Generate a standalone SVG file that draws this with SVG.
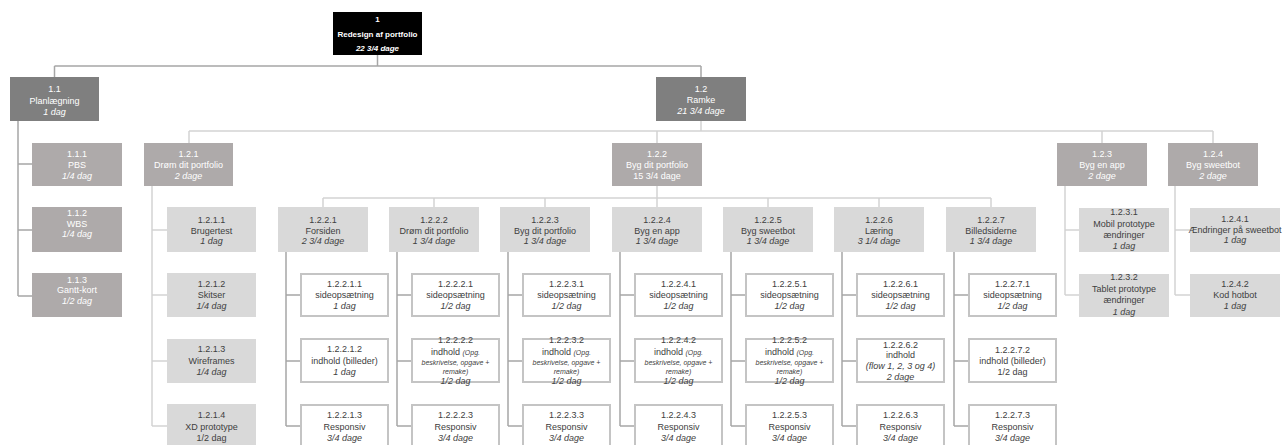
<svg xmlns="http://www.w3.org/2000/svg" width="1288" height="445" viewBox="0 0 1288 445">
<style>
text{font-family:"Liberation Sans",Arial,sans-serif;font-size:9px;text-anchor:middle}
.w{fill:#fff}.d{fill:#404040}.i{font-style:italic}.b{font-weight:bold;font-size:8px}
.sm{font-size:7px;font-style:italic}
.k0{fill:#000}.k1{fill:#7f7f7f}.k2{fill:#aeaaaa}.k3{fill:#d9d9d9}.k4{fill:#fff;stroke:#c4c4c4;stroke-width:2}
.c1{stroke:#a6a6a6;stroke-width:1.5;fill:none}.c2{stroke:#d3d3d3;stroke-width:1.5;fill:none}
</style>
<rect width="1288" height="445" fill="#fff"/>
<g id="connectors">
<path class="c1" d="M377.5 55V66M54.5 66H701M54.5 66V77M701 66V77"/>
<path class="c1" d="M18 121V296M18 164H32M18 230H32M18 296H32"/>
<path class="c2" d="M701 121V131M189 131H1213M189 131V143M657 131V143M1102 131V143M1213 131V143"/>
<path class="c2" d="M152 186V426M152 230H167M152 295H167M152 361H167M152 426H167"/>
<path class="c2" d="M657 186V198M323 198H991M323 198V207M434 198V207M545 198V207M657 198V207M768 198V207M879 198V207M991 198V207"/>
<path class="c1" d="M286 252V426M286 295H300M286 361H300M286 426H300"/>
<path class="c1" d="M397 252V426M397 295H411M397 361H411M397 426H411"/>
<path class="c1" d="M508 252V426M508 295H522M508 361H522M508 426H522"/>
<path class="c1" d="M620 252V426M620 295H634M620 361H634M620 426H634"/>
<path class="c1" d="M731 252V426M731 295H745M731 361H745M731 426H745"/>
<path class="c1" d="M842 252V426M842 295H856M842 361H856M842 426H856"/>
<path class="c1" d="M954 252V426M954 295H968M954 361H968M954 426H968"/>
<path class="c2" d="M1065 186V295M1065 230H1079M1065 295H1079"/>
<path class="c2" d="M1175 186V295M1175 230H1190M1175 295H1190"/>
</g>
<g id="n1"><rect class="k0" x="333" y="12" width="89" height="43"/><text class="w b" x="377.5" y="22">1</text><text class="w b" x="377.5" y="37">Redesign af portfolio</text><text class="w b i" x="377.5" y="51">22 3/4 dage</text></g>
<g id="n1-1"><rect class="k1" x="10" y="77" width="89" height="44"/><text class="w" x="54.5" y="92">1.1</text><text class="w" x="54.5" y="103.5">Planlægning</text><text class="w i" x="54.5" y="114.5">1 dag</text></g>
<g id="n1-2"><rect class="k1" x="656" y="77" width="90" height="44"/><text class="w" x="701" y="92">1.2</text><text class="w" x="701" y="103">Ramke</text><text class="w i" x="701" y="114">21 3/4 dage</text></g>
<g id="n1-1-1"><rect class="k2" x="32" y="143" width="90" height="43"/><text class="w" x="77" y="157">1.1.1</text><text class="w" x="77" y="168">PBS</text><text class="w i" x="77" y="178.5">1/4 dag</text></g>
<g id="n1-1-2"><rect class="k2" x="32" y="207" width="90" height="45"/><text class="w" x="77" y="216">1.1.2</text><text class="w" x="77" y="226.5">WBS</text><text class="w i" x="77" y="237">1/4 dag</text></g>
<g id="n1-1-3"><rect class="k2" x="32" y="273" width="90" height="44"/><text class="w" x="77" y="282.5">1.1.3</text><text class="w" x="77" y="293">Gantt-kort</text><text class="w i" x="77" y="303.5">1/2 dag</text></g>
<g id="n1-2-1"><rect class="k2" x="144" y="143" width="89" height="43"/><text class="w" x="188.5" y="157">1.2.1</text><text class="w" x="188.5" y="168">Drøm dit portfolio</text><text class="w i" x="188.5" y="178.5">2 dage</text></g>
<g id="n1-2-2"><rect class="k2" x="612" y="143" width="90" height="43"/><text class="w" x="657" y="157">1.2.2</text><text class="w" x="657" y="168">Byg dit portfolio</text><text class="w" x="657" y="178.5">15 3/4 dage</text></g>
<g id="n1-2-3"><rect class="k2" x="1057" y="143" width="90" height="43"/><text class="w" x="1102" y="157">1.2.3</text><text class="w" x="1102" y="168">Byg en app</text><text class="w i" x="1102" y="178.5">2 dage</text></g>
<g id="n1-2-4"><rect class="k2" x="1168" y="143" width="90" height="43"/><text class="w" x="1213" y="157">1.2.4</text><text class="w" x="1213" y="168">Byg sweetbot</text><text class="w i" x="1213" y="178.5">2 dage</text></g>
<g id="n1-2-1-1"><rect class="k3" x="167" y="207" width="89" height="45"/><text class="d" x="211.5" y="223">1.2.1.1</text><text class="d" x="211.5" y="233.5">Brugertest</text><text class="d i" x="211.5" y="244">1 dag</text></g>
<g id="n1-2-1-2"><rect class="k3" x="167" y="273" width="89" height="44"/><text class="d" x="211.5" y="287">1.2.1.2</text><text class="d" x="211.5" y="298">Skitser</text><text class="d i" x="211.5" y="309">1/4 dag</text></g>
<g id="n1-2-1-3"><rect class="k3" x="167" y="339" width="89" height="44"/><text class="d" x="211.5" y="352">1.2.1.3</text><text class="d" x="211.5" y="363.5">Wireframes</text><text class="d i" x="211.5" y="375">1/4 dag</text></g>
<g id="n1-2-1-4"><rect class="k3" x="167" y="404" width="89" height="44"/><text class="d" x="211.5" y="418">1.2.1.4</text><text class="d" x="211.5" y="429.5">XD prototype</text><text class="d" x="211.5" y="441">1/2 dag</text></g>
<g id="n1-2-2-1"><rect class="k3" x="278" y="207" width="90" height="45"/><text class="d" x="323" y="223">1.2.2.1</text><text class="d" x="323" y="233.5">Forsiden</text><text class="d i" x="323" y="244">2 3/4 dage</text></g>
<g id="n1-2-2-2"><rect class="k3" x="389" y="207" width="90" height="45"/><text class="d" x="434" y="223">1.2.2.2</text><text class="d" x="434" y="233.5">Drøm dit portfolio</text><text class="d i" x="434" y="244">1 3/4 dage</text></g>
<g id="n1-2-2-3"><rect class="k3" x="500" y="207" width="90" height="45"/><text class="d" x="545" y="223">1.2.2.3</text><text class="d" x="545" y="233.5">Byg dit portfolio</text><text class="d i" x="545" y="244">1 3/4 dage</text></g>
<g id="n1-2-2-4"><rect class="k3" x="612" y="207" width="90" height="45"/><text class="d" x="657" y="223">1.2.2.4</text><text class="d" x="657" y="233.5">Byg en app</text><text class="d i" x="657" y="244">1 3/4 dage</text></g>
<g id="n1-2-2-5"><rect class="k3" x="723" y="207" width="90" height="45"/><text class="d" x="768" y="223">1.2.2.5</text><text class="d" x="768" y="233.5">Byg sweetbot</text><text class="d i" x="768" y="244">1 3/4 dage</text></g>
<g id="n1-2-2-6"><rect class="k3" x="834" y="207" width="90" height="45"/><text class="d" x="879" y="223">1.2.2.6</text><text class="d" x="879" y="233.5">Læring</text><text class="d i" x="879" y="244">3 1/4 dage</text></g>
<g id="n1-2-2-7"><rect class="k3" x="946" y="207" width="90" height="45"/><text class="d" x="991" y="223">1.2.2.7</text><text class="d" x="991" y="233.5">Billedsiderne</text><text class="d i" x="991" y="244">1 3/4 dage</text></g>
<g id="n1-2-3-1"><rect class="k3" x="1079" y="208" width="90" height="44"/><text class="d" x="1124" y="215">1.2.3.1</text><text class="d" x="1124" y="227">Mobil prototype</text><text class="d" x="1124" y="238">ændringer</text><text class="d i" x="1124" y="249">1 dag</text></g>
<g id="n1-2-3-2"><rect class="k3" x="1079" y="274" width="90" height="43"/><text class="d" x="1124" y="280">1.2.3.2</text><text class="d" x="1124" y="291.5">Tablet prototype</text><text class="d" x="1124" y="303">ændringer</text><text class="d i" x="1124" y="314.5">1 dag</text></g>
<g id="n1-2-4-1"><rect class="k3" x="1190" y="208" width="90" height="44"/><text class="d" x="1235" y="222">1.2.4.1</text><text class="d" x="1235" y="232.5">Ændringer på sweetbot</text><text class="d i" x="1235" y="243">1 dag</text></g>
<g id="n1-2-4-2"><rect class="k3" x="1190" y="274" width="90" height="43"/><text class="d" x="1235" y="287">1.2.4.2</text><text class="d" x="1235" y="298">Kod hotbot</text><text class="d i" x="1235" y="309">1 dag</text></g>
<g id="n1-2-2-1-1"><rect class="k4" x="301" y="274" width="87" height="42"/><text class="d" x="344.5" y="287">1.2.2.1.1</text><text class="d" x="344.5" y="298">sideopsætning</text><text class="d i" x="344.5" y="309">1 dag</text></g>
<g id="n1-2-2-1-2"><rect class="k4" x="301" y="339" width="87" height="43"/><text class="d" x="344.5" y="352">1.2.2.1.2</text><text class="d" x="344.5" y="363.5">indhold (billeder)</text><text class="d i" x="344.5" y="375">1 dag</text></g>
<g id="n1-2-2-1-3"><rect class="k4" x="301" y="405" width="87" height="42"/><text class="d" x="344.5" y="418">1.2.2.1.3</text><text class="d" x="344.5" y="429.5">Responsiv</text><text class="d i" x="344.5" y="440.5">3/4 dage</text></g>
<g id="n1-2-2-2-1"><rect class="k4" x="412" y="274" width="87" height="42"/><text class="d" x="455.5" y="287">1.2.2.2.1</text><text class="d" x="455.5" y="298">sideopsætning</text><text class="d i" x="455.5" y="309">1/2 dag</text></g>
<g id="n1-2-2-2-2"><rect class="k4" x="412" y="339" width="87" height="43"/><text class="d" x="455.5" y="343">1.2.2.2.2</text><text class="d" x="455.5" y="355">indhold <tspan class="sm">(Opg.</tspan></text><text class="d sm" x="455.5" y="364.5">beskrivelse, opgave +</text><text class="d sm" x="455.5" y="373.5">remake)</text><text class="d i" x="455.5" y="384">1/2 dag</text></g>
<g id="n1-2-2-2-3"><rect class="k4" x="412" y="405" width="87" height="42"/><text class="d" x="455.5" y="418">1.2.2.2.3</text><text class="d" x="455.5" y="429.5">Responsiv</text><text class="d i" x="455.5" y="440.5">3/4 dage</text></g>
<g id="n1-2-2-3-1"><rect class="k4" x="523" y="274" width="87" height="42"/><text class="d" x="566.5" y="287">1.2.2.3.1</text><text class="d" x="566.5" y="298">sideopsætning</text><text class="d i" x="566.5" y="309">1/2 dag</text></g>
<g id="n1-2-2-3-2"><rect class="k4" x="523" y="339" width="87" height="43"/><text class="d" x="566.5" y="343">1.2.2.3.2</text><text class="d" x="566.5" y="355">indhold <tspan class="sm">(Opg.</tspan></text><text class="d sm" x="566.5" y="364.5">beskrivelse, opgave +</text><text class="d sm" x="566.5" y="373.5">remake)</text><text class="d i" x="566.5" y="384">1/2 dag</text></g>
<g id="n1-2-2-3-3"><rect class="k4" x="523" y="405" width="87" height="42"/><text class="d" x="566.5" y="418">1.2.2.3.3</text><text class="d" x="566.5" y="429.5">Responsiv</text><text class="d i" x="566.5" y="440.5">3/4 dage</text></g>
<g id="n1-2-2-4-1"><rect class="k4" x="635" y="274" width="87" height="42"/><text class="d" x="678.5" y="287">1.2.2.4.1</text><text class="d" x="678.5" y="298">sideopsætning</text><text class="d i" x="678.5" y="309">1/2 dag</text></g>
<g id="n1-2-2-4-2"><rect class="k4" x="635" y="339" width="87" height="43"/><text class="d" x="678.5" y="343">1.2.2.4.2</text><text class="d" x="678.5" y="355">indhold <tspan class="sm">(Opg.</tspan></text><text class="d sm" x="678.5" y="364.5">beskrivelse, opgave +</text><text class="d sm" x="678.5" y="373.5">remake)</text><text class="d i" x="678.5" y="384">1/2 dag</text></g>
<g id="n1-2-2-4-3"><rect class="k4" x="635" y="405" width="87" height="42"/><text class="d" x="678.5" y="418">1.2.2.4.3</text><text class="d" x="678.5" y="429.5">Responsiv</text><text class="d i" x="678.5" y="440.5">3/4 dage</text></g>
<g id="n1-2-2-5-1"><rect class="k4" x="746" y="274" width="87" height="42"/><text class="d" x="789.5" y="287">1.2.2.5.1</text><text class="d" x="789.5" y="298">sideopsætning</text><text class="d i" x="789.5" y="309">1/2 dag</text></g>
<g id="n1-2-2-5-2"><rect class="k4" x="746" y="339" width="87" height="43"/><text class="d" x="789.5" y="343">1.2.2.5.2</text><text class="d" x="789.5" y="355">indhold <tspan class="sm">(Opg.</tspan></text><text class="d sm" x="789.5" y="364.5">beskrivelse, opgave +</text><text class="d sm" x="789.5" y="373.5">remake)</text><text class="d i" x="789.5" y="384">1/2 dag</text></g>
<g id="n1-2-2-5-3"><rect class="k4" x="746" y="405" width="87" height="42"/><text class="d" x="789.5" y="418">1.2.2.5.3</text><text class="d" x="789.5" y="429.5">Responsiv</text><text class="d i" x="789.5" y="440.5">3/4 dage</text></g>
<g id="n1-2-2-6-1"><rect class="k4" x="857" y="274" width="87" height="42"/><text class="d" x="900.5" y="287">1.2.2.6.1</text><text class="d" x="900.5" y="298">sideopsætning</text><text class="d i" x="900.5" y="309">1/2 dag</text></g>
<g id="n1-2-2-6-2"><rect class="k4" x="857" y="339" width="87" height="43"/><text class="d" x="900.5" y="348">1.2.2.6.2</text><text class="d" x="900.5" y="358">indhold</text><text class="d i" x="900.5" y="369">(flow 1, 2, 3 og 4)</text><text class="d i" x="900.5" y="380">2 dage</text></g>
<g id="n1-2-2-6-3"><rect class="k4" x="857" y="405" width="87" height="42"/><text class="d" x="900.5" y="418">1.2.2.6.3</text><text class="d" x="900.5" y="429.5">Responsiv</text><text class="d i" x="900.5" y="440.5">3/4 dage</text></g>
<g id="n1-2-2-7-1"><rect class="k4" x="969" y="274" width="87" height="42"/><text class="d" x="1012.5" y="287">1.2.2.7.1</text><text class="d" x="1012.5" y="298">sideopsætning</text><text class="d i" x="1012.5" y="309">1/2 dag</text></g>
<g id="n1-2-2-7-2"><rect class="k4" x="969" y="339" width="87" height="43"/><text class="d" x="1012.5" y="353">1.2.2.7.2</text><text class="d" x="1012.5" y="364">indhold (billeder)</text><text class="d" x="1012.5" y="375">1/2 dag</text></g>
<g id="n1-2-2-7-3"><rect class="k4" x="969" y="405" width="87" height="42"/><text class="d" x="1012.5" y="418">1.2.2.7.3</text><text class="d" x="1012.5" y="429.5">Responsiv</text><text class="d i" x="1012.5" y="440.5">3/4 dage</text></g>
</svg>
